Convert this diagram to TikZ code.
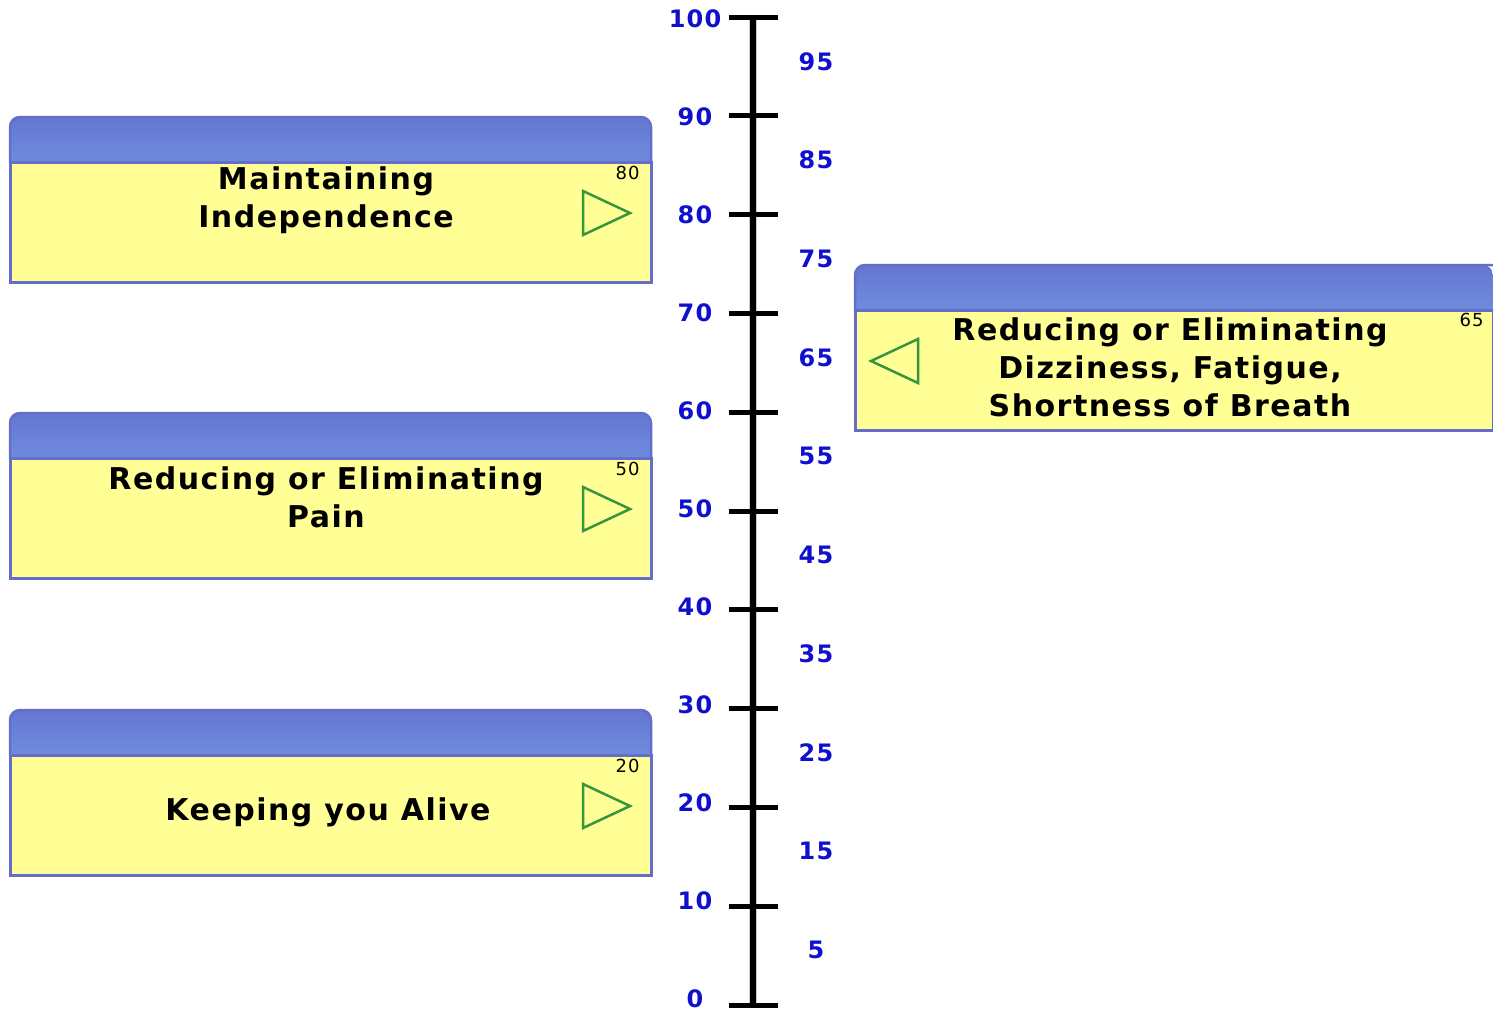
\documentclass[tikz,border=0pt]{standalone}
\usepackage{fontspec}
\setmainfont{DejaVu Sans}
\newfontfamily\goalfont[LetterSpace=5]{DejaVu Sans}
\newfontfamily\scalefont[LetterSpace=5]{DejaVu Sans}
\definecolor{boxyellow}{RGB}{255,255,150}
\definecolor{boxedge}{RGB}{100,110,200}
\definecolor{headtop}{RGB}{100,118,210}
\definecolor{headmid}{RGB}{128,162,232}
\definecolor{headbot}{RGB}{112,140,222}
\definecolor{scaleblue}{RGB}{15,15,205}
\definecolor{markgreen}{RGB}{55,150,60}
\tikzset{
  goalhead/.style={top color=headtop, middle color=headmid, bottom color=headbot},
  goalbody/.style={fill=boxyellow, draw=boxedge, line width=3pt},
  goaltext/.style={align=center, font=\goalfont\bfseries\fontsize{30}{38}\selectfont},
  goalnum/.style={font=\goalfont\fontsize{18}{18}\selectfont, anchor=east},
  goalmark/.style={draw=markgreen, line width=2.5pt, line join=miter},
  scalelabel/.style={text=scaleblue, inner sep=0pt, font=\scalefont\bfseries\fontsize{24}{24}\selectfont},
}
\begin{document}
\begin{tikzpicture}[x=1pt,y=-1pt]
  \useasboundingbox (0,0) rectangle (1493,1013);
  % goal boxes
  \foreach \top in {117,413,710}{
    \shade[goalhead] (10,{\top+46}) [rounded corners=10pt]-- (10,\top) -- (651,\top) [sharp corners]-- (651,{\top+46}) -- cycle;
    \draw[boxedge, line width=2.5pt] (10,{\top+46}) [rounded corners=10pt]-- (10,\top) -- (651,\top) [sharp corners]-- (651,{\top+46});
    \fill[goalbody] (10,{\top+45}) rectangle (651,{\top+165});
    \draw[goalmark] (583,{\top+74}) -- (630,{\top+96}) -- (583,{\top+118}) -- cycle;
  }
  \shade[goalhead] (855,311) [rounded corners=10pt]-- (855,265) -- (1493,265) [sharp corners]-- (1493,311) -- cycle;
  \draw[boxedge, line width=2.5pt] (855,311) [rounded corners=10pt]-- (855,265) -- (1493,265);
  \fill[goalbody] (855,310) rectangle (1493,430);
  \draw[goalmark] (918,339) -- (871,361) -- (918,383) -- cycle;

  \node[goaltext] (indep) at (326,200) {Maintaining\\Independence};
  \node[goaltext] (pain) at (326,497) {Reducing or Eliminating\\Pain};
  \node[goaltext] (alive) at (328,812) {Keeping you Alive};
  \node[goaltext] (dizzy) at (1170,367) {Reducing or Eliminating\\Dizziness, Fatigue,\\Shortness of Breath};
  \node[goalnum] (n80) at (643,173) {80};
  \node[goalnum] (n50) at (643,469) {50};
  \node[goalnum] (n20) at (643,766) {20};
  \node[goalnum] (n65) at (1487,320) {65};

  % scale
  \draw[gray!40, line width=8pt] (753,17) -- (753,1005);
  \draw[line width=5.5pt] (753,17) -- (753,1005);
  \foreach \v in {0,10,...,100}{
    \draw[line width=5pt] (729,{1005-9.88*\v}) -- (778,{1005-9.88*\v});
    \node[scalelabel] (l\v) at (695,{999-9.80*\v}) {\v};
  }
  \foreach \v in {5,15,...,95}
    \node[scalelabel] (r\v) at (816,{999-9.87*\v}) {\v};
\end{tikzpicture}
\end{document}
